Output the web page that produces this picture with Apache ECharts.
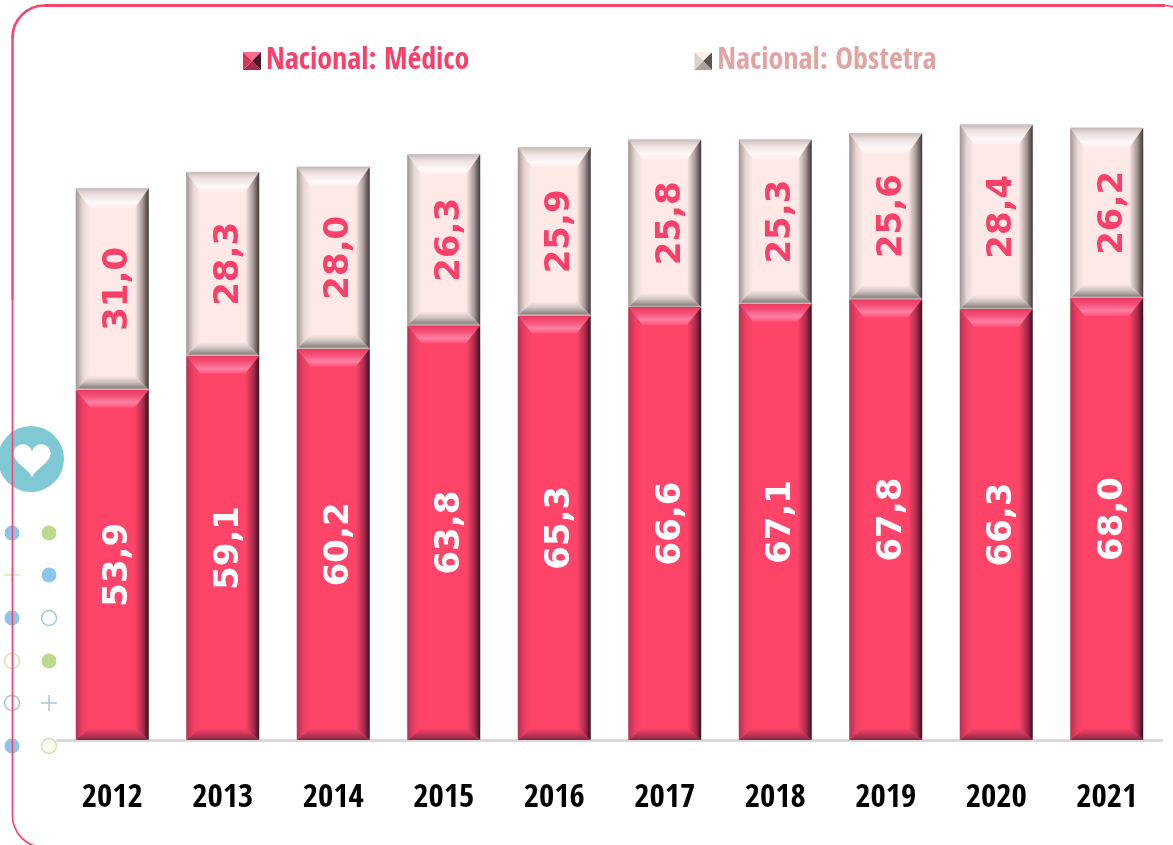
<!DOCTYPE html>
<html>
<head>
<meta charset="utf-8">
<style>html,body{margin:0;padding:0;background:#fff}#c{width:1173px;height:845px}</style>
<script src="https://cdn.jsdelivr.net/npm/echarts@6/dist/echarts.min.js"></script>
</head>
<body>
<div id="c"></div>
<script>
const years = ['2012','2013','2014','2015','2016','2017','2018','2019','2020','2021'];
const medico = [53.9,59.1,60.2,63.8,65.3,66.6,67.1,67.8,66.3,68.0];
const obstetra = [31.0,28.3,28.0,26.3,25.9,25.8,25.3,25.6,28.4,26.2];
const nameMedico = 'Nacional: Médico';
const nameObstetra = 'Nacional: Obstetra';

const grad = (x, y, x2, y2, stops) => ({
  type: 'linear', x, y, x2, y2,
  colorStops: stops.map(s => ({offset:s[0], color:s[1]}))
});
const palettes = {
  pink: {
    base:'#ff4469',
    top:[[0,'#e8385e'],[0.35,'#f5517a'],[0.72,'#ff80a2'],[1,'#ff5077']],
    left:[[0,'#b83053'],[0.5,'#ee3f64'],[1,'#ff4469']],
    right:[[0,'#35131f'],[0.4,'#a82c4d'],[1,'#ff4469']],
    bottom:[[0,'#ff4469'],[0.55,'#c23457'],[1,'#7d2a42']],
    inset:14, topH:18, botH:12
  },
  cream: {
    base:'#fee9e7',
    top:[[0,'#c5b9b7'],[0.3,'#ebdfdd'],[0.75,'#fffafa'],[1,'#fdeeec']],
    left:[[0,'#a09492'],[0.5,'#e6d6d4'],[1,'#fee9e7']],
    right:[[0,'#3f3736'],[0.45,'#a89a98'],[1,'#fee9e7']],
    bottom:[[0,'#fee9e7'],[0.45,'#cfc3c1'],[0.85,'#8f8583'],[1,'#c9c0be']],
    inset:14, topH:20, botH:14
  }
};

function bevel(params, api) {
  const i = api.value(0);
  const p = palettes[api.value(3) === 0 ? 'pink' : 'cream'];
  const w = api.size([1, 0])[0] * 0.66;
  const c = api.coord([i, api.value(1)]);
  const t = api.coord([i, api.value(2)]);
  const x0 = c[0] - w / 2, x1 = c[0] + w / 2, y0 = t[1], y1 = c[1];
  const xi0 = x0 + p.inset, xi1 = x1 - p.inset, yi0 = y0 + p.topH, yi1 = y1 - p.botH;
  const poly = (points, fill) => ({type:'polygon', shape:{points}, style:{fill}, silent:true});
  return {type:'group', children:[
    poly([[x0,y0],[x1,y0],[xi1,yi0],[xi0,yi0]], grad(0,0,0,1,p.top)),
    poly([[x0,y1],[x1,y1],[xi1,yi1],[xi0,yi1]], grad(0,0,0,1,p.bottom)),
    poly([[x0,y0],[xi0,yi0],[xi0,yi1],[x0,y1]], grad(0,0,1,0,p.left)),
    poly([[x1,y0],[xi1,yi0],[xi1,yi1],[x1,y1]], grad(1,0,0,0,p.right))
  ]};
}

const bevelData = [];
years.forEach((y, i) => {
  bevelData.push([i, 0, medico[i], 0]);
  bevelData.push([i, medico[i], medico[i] + obstetra[i], 1]);
});

const svgIcon = (l, t, r, b) => 'image://data:image/svg+xml;charset=utf-8,' + encodeURIComponent(
  `<svg xmlns="http://www.w3.org/2000/svg" width="18" height="18"><polygon points="0,0 18,0 9,9" fill="${t}"/><polygon points="0,18 18,18 9,9" fill="${b}"/><polygon points="0,0 9,9 0,18" fill="${l}"/><polygon points="18,0 9,9 18,18" fill="${r}"/></svg>`);
const iconPink = svgIcon('#d8335a','#ff6b8f','#4a1a2a','#a82a4c');
const iconCream = svgIcon('#d9cfcd','#fdeeec','#5a5150','#aaa09e');

const labelFont = {fontFamily:'"DejaVu Sans"', fontWeight:'bold', fontSize:34};
const fmt = p => p.value.toFixed(1).replace('.', ',');

const chart = echarts.init(document.getElementById('c'), null, {renderer:'canvas'});

const circle = (cx, cy, fill, stroke, inner) => fill
  ? {type:'circle', shape:{cx, cy, r:7.5}, style:{fill}, silent:true}
  : {type:'circle', shape:{cx, cy, r:7.5}, style:{fill:inner || '#fff', stroke, lineWidth:1.5}, silent:true};
const plus = (cx, cy, color) => ({type:'group', silent:true, children:[
  {type:'line', shape:{x1:cx-8, y1:cy, x2:cx+8, y2:cy}, style:{stroke:color, lineWidth:1.5}},
  {type:'line', shape:{x1:cx, y1:cy-8, x2:cx, y2:cy+8}, style:{stroke:color, lineWidth:1.5}}
]});
const blue = '#8cc4ea', green = '#bcd98e', ringBlue = '#a3c6de', ringGreen = '#d3e2b4';
const heartPoints = [];
for (let k = 0; k < 48; k++) {
  const a = k / 48 * Math.PI * 2;
  heartPoints.push([32 + 1.16 * 16 * Math.pow(Math.sin(a), 3),
    458 - 1.16 * (13 * Math.cos(a) - 5 * Math.cos(2*a) - 2 * Math.cos(3*a) - Math.cos(4*a))]);
}
const borderColor = '#f8456d';

chart.setOption({
  animation:false,
  backgroundColor:'#fff',
  grid:{left:57, right:11, top:90, bottom:105, containLabel:false},
  legend:{
    left:238, top:41, itemWidth:18, itemHeight:18, itemGap:225,
    selectedMode:false,
    textStyle:{fontFamily:'"Open Sans Condensed"', fontWeight:'bold', fontSize:30},
    data:[
      {name:nameMedico, icon:iconPink, textStyle:{color:'#f8406a'}},
      {name:nameObstetra, icon:iconCream, textStyle:{color:'#e2a3a3'}}
    ]
  },
  xAxis:{
    type:'category', data:years,
    axisLine:{lineStyle:{color:'#d9d9d9', width:3}},
    axisTick:{show:false},
    axisLabel:{color:'#000', fontFamily:'"Open Sans Condensed"', fontWeight:'bold', fontSize:33, margin:42}
  },
  yAxis:{type:'value', min:0, max:100, show:false, splitLine:{show:false}},
  series:[
    {name:nameMedico, type:'bar', stack:'t', barWidth:'66%', data:medico,
     itemStyle:{color:palettes.pink.base, borderColor:'#d5cfcf', borderWidth:1},
     label:{show:true, position:'inside', rotate:90, offset:[0,6], color:'#fff', formatter:fmt, ...labelFont}},
    {name:nameObstetra, type:'bar', stack:'t', barWidth:'66%', data:obstetra,
     itemStyle:{color:palettes.cream.base, borderColor:'#d5cfcf', borderWidth:1},
     label:{show:true, position:'inside', rotate:90, offset:[0,6], color:'#f8406a', formatter:fmt, ...labelFont}},
    {name:'bevel', type:'custom', renderItem:bevel, data:bevelData, silent:true, z:3,
     encode:{x:0, y:[1,2]}}
  ],
  graphic:[
    {type:'group', silent:true, z:10, children:[
      {type:'circle', shape:{cx:31, cy:459, r:33}, style:{fill:'#7fc9d5'}},
      {type:'polygon', shape:{points:heartPoints}, style:{fill:'#fff'}},
      circle(12,533,blue), circle(49,533,green),
      plus(12,575,ringGreen), circle(49,575,blue),
      circle(12,618,blue), circle(49,618,null,ringBlue),
      circle(12,661,null,ringGreen), circle(49,661,green),
      circle(12,703,null,ringBlue), plus(49,703,ringBlue),
      circle(12,746,blue), circle(49,746,null,ringGreen,'#f8fbee'),
      {type:'rect', shape:{x:12.5, y:5.5, width:1183, height:842, r:32}, style:{fill:null, stroke:borderColor, lineWidth:1.7}},
      {type:'line', shape:{x1:44.5, y1:5.5, x2:1165, y2:5.5}, style:{stroke:borderColor, lineWidth:3}},
      {type:'arc', shape:{cx:44.5, cy:37.5, r:32, startAngle:Math.PI, endAngle:1.5*Math.PI, clockwise:true}, style:{fill:null, stroke:borderColor, lineWidth:2.6}},
      {type:'line', shape:{x1:12.5, y1:37, x2:12.5, y2:300}, style:{stroke:borderColor, lineWidth:2.1}}
    ]}
  ]
});
</script>
</body>
</html>
